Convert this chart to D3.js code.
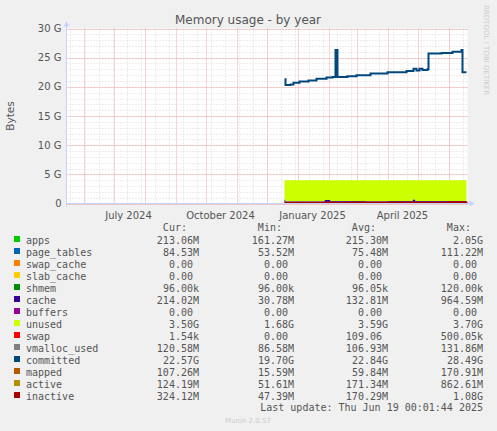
<!DOCTYPE html>
<html><head><meta charset="utf-8">
<script src="https://cdn.jsdelivr.net/npm/d3@7"></script>
<style>body{margin:0;background:#f0f0f0}svg{display:block}</style>
</head><body>
<svg id="chart" width="497" height="431"></svg>
<script>
// legend rows
const names = ['apps','page_tables','swap_cache','slab_cache','shmem','cache','buffers','unused','swap','vmalloc_used','committed','mapped','active','inactive'];
const colors = ['#00cc00','#0066b3','#ff8000','#ffcc00','#008f00','#330099','#990099','#ccff00','#ff0000','#808080','#00487d','#b35a00','#b38f00','#a80000'];
const curV = ['213.06M','84.53M','0.00','0.00','96.00k','214.02M','0.00','3.50G','1.54k','120.58M','22.57G','107.26M','124.19M','324.12M'];
const minV = ['161.27M','53.52M','0.00','0.00','96.00k','30.78M','0.00','1.68G','0.00','86.58M','19.70G','15.59M','51.61M','47.39M'];
const avgV = ['215.30M','75.48M','0.00','0.00','96.05k','132.81M','0.00','3.59G','109.06','106.93M','22.84G','59.84M','171.34M','170.29M'];
const maxV = ['2.05G','111.22M','0.00','0.00','120.00k','964.59M','0.00','3.70G','500.05k','131.86M','28.49G','170.91M','862.61M','1.08G'];

// stacked series (GB)
const stackDates = ['2024-12-19','2024-12-20','2025-01-10','2025-01-28','2025-02-03','2025-02-20','2025-03-10','2025-04-01','2025-04-26','2025-04-29','2025-05-12','2025-06-01','2025-06-19'];
const apps       = [0.22,0.21,0.21,0.22,0.21,0.21,0.21,0.21,0.22,0.21,0.21,0.21,0.21];
const pageTables = [0.06,0.07,0.07,0.07,0.07,0.08,0.08,0.08,0.08,0.08,0.08,0.08,0.08];
const cache      = [0.40,0.10,0.12,0.30,0.14,0.12,0.10,0.12,0.40,0.14,0.13,0.15,0.21];
const unused     = [3.30,3.60,3.58,3.40,3.55,3.58,3.60,3.58,3.30,3.55,3.57,3.56,3.50];
const inactive   = [0.15,0.14,0.15,0.16,0.15,0.16,0.16,0.16,0.18,0.17,0.18,0.20,0.32];

// committed line (GB)
const commitDates = ['2024-12-19','2024-12-20','2024-12-25','2024-12-28','2025-01-03','2025-01-12','2025-01-20','2025-01-30','2025-02-05','2025-02-08','2025-02-10','2025-02-20','2025-03-01','2025-03-15','2025-04-01','2025-04-20','2025-04-27','2025-04-30','2025-05-03','2025-05-06','2025-05-11','2025-05-12','2025-05-25','2025-06-05','2025-06-13','2025-06-14','2025-06-15','2025-06-19'];
const committed   = [21.3,20.3,20.4,20.7,20.9,21.1,21.4,21.6,21.7,26.3,21.7,21.8,22.0,22.3,22.5,22.7,23.1,22.8,23.1,22.9,23.0,25.7,25.8,26.0,26.0,26.3,22.5,22.5];

const yTicks = [0,5,10,15,20,25,30];
const yLabels = ['0','5 G','10 G','15 G','20 G','25 G','30 G'];
const monthLabels = [['2024-07-16','July 2024'],['2024-10-16','October 2024'],['2025-01-16','January 2025'],['2025-04-16','April 2025']];

const svg = d3.select('#chart');
const L = 66.5, R = 467.5, T = 28.5, B = 203.5;
const parse = d3.utcParse('%Y-%m-%d');
const x = d3.scaleUtc().domain([parse('2024-05-15'), parse('2025-06-20')]).range([L, R]);
const y = d3.scaleLinear().domain([0, 30]).range([B, T]);

svg.append('rect').attr('x', L).attr('y', T).attr('width', R - L).attr('height', B - T).attr('fill', '#fff');

// grid
const g = svg.append('g');
const minorC = '#d8d8d8', majorC = '#f2a8a8';
x.ticks(d3.utcWeek.every(2)).forEach(d => g.append('line').attr('x1', Math.round(x(d)) + .5).attr('x2', Math.round(x(d)) + .5).attr('y1', T).attr('y2', B).attr('stroke', minorC).attr('stroke-dasharray', '1,2'));
d3.range(0, 31, 1).forEach(v => g.append('line').attr('x1', L).attr('x2', R).attr('y1', Math.round(y(v)) + .5).attr('y2', Math.round(y(v)) + .5).attr('stroke', minorC).attr('stroke-dasharray', '1,2'));
x.ticks(d3.utcMonth.every(1)).forEach(d => g.append('line').attr('x1', Math.round(x(d)) + .5).attr('x2', Math.round(x(d)) + .5).attr('y1', T).attr('y2', B).attr('stroke', majorC).attr('stroke-dasharray', '1,1'));
yTicks.forEach(v => g.append('line').attr('x1', L).attr('x2', R).attr('y1', Math.round(y(v)) + .5).attr('y2', Math.round(y(v)) + .5).attr('stroke', majorC).attr('stroke-dasharray', '1,1'));

// stacked areas
const sd = stackDates.map(parse);
const rows = sd.map((d, i) => ({ d, apps: apps[i], page_tables: pageTables[i], cache: cache[i], unused: unused[i] }));
const stack = d3.stack().keys(['apps', 'page_tables', 'cache', 'unused'])(rows);
const stackColors = { apps: '#00cc00', page_tables: '#0066b3', cache: '#330099', unused: '#ccff00' };
const area = d3.area().curve(d3.curveStepAfter).x(d => x(d.data.d)).y0(d => y(d[0])).y1(d => y(d[1]));
stack.forEach(s => svg.append('path').datum(s).attr('d', area).attr('fill', stackColors[s.key]));

const line = d3.line().curve(d3.curveStepAfter).x(d => x(d[0])).y(d => y(d[1]));
svg.append('path').datum(sd.map((d, i) => [d, inactive[i]])).attr('d', line).attr('fill', 'none').attr('stroke', '#a80000').attr('stroke-width', 2);
svg.append('path').datum(commitDates.map((d, i) => [parse(d), committed[i]])).attr('d', line).attr('fill', 'none').attr('stroke', '#00487d').attr('stroke-width', 2);

// axes
svg.append('line').attr('x1', L).attr('x2', R + 5).attr('y1', B).attr('y2', B).attr('stroke', '#c8d2ff');
svg.append('line').attr('x1', L).attr('x2', L).attr('y1', B + 3).attr('y2', T - 5).attr('stroke', '#c8d2ff');
svg.append('path').attr('d', `M${R + 2},${B - 3}L${R + 7},${B}L${R + 2},${B + 3}Z`).attr('fill', '#c8d2ff');
svg.append('path').attr('d', `M${L - 3},${T - 2}L${L},${T - 7}L${L + 3},${T - 2}Z`).attr('fill', '#c8d2ff');

const font = 'DejaVu Sans, sans-serif';
yTicks.forEach((v, i) => svg.append('text').attr('x', L - 5).attr('y', y(v) + 3.5).attr('text-anchor', 'end').attr('font-family', font).attr('font-size', 10).attr('fill', '#555').text(yLabels[i]));
monthLabels.forEach(m => svg.append('text').attr('x', x(parse(m[0]))).attr('y', B + 15).attr('text-anchor', 'middle').attr('font-family', font).attr('font-size', 10).attr('fill', '#555').text(m[1]));

svg.append('text').attr('x', 248).attr('y', 24).attr('text-anchor', 'middle').attr('font-family', font).attr('font-size', 12).attr('fill', '#555').text('Memory usage - by year');
svg.append('text').attr('transform', 'translate(14,116) rotate(-90)').attr('text-anchor', 'middle').attr('font-family', font).attr('font-size', 10.5).attr('fill', '#555').text('Bytes');
svg.append('text').attr('transform', 'translate(484,5) rotate(90)').attr('font-family', font).attr('font-size', 7).attr('fill', '#ccc').text('RRDTOOL / TOBI OETIKER');

// legend
const mono = 'DejaVu Sans Mono, monospace';
const cw = 6.02;
const colR = [199, 294, 388, 483];
['Cur:', 'Min:', 'Avg:', 'Max:'].forEach((h, i) => svg.append('text').attr('x', colR[i] - 2 * cw).attr('y', 231).attr('text-anchor', 'end').attr('font-family', mono).attr('font-size', 10).attr('fill', '#555').text(h));
names.forEach((n, i) => {
  const yy = 243.5 + i * 12;
  svg.append('rect').attr('x', 14).attr('y', yy - 7.5).attr('width', 6).attr('height', 6).attr('fill', colors[i]);
  svg.append('text').attr('x', 26).attr('y', yy).attr('font-family', mono).attr('font-size', 10).attr('fill', '#555').text(n);
  [curV, minV, avgV, maxV].forEach((arr, j) => {
    const v = arr[i];
    const off = /[kMG]$/.test(v) ? 0 : cw;
    svg.append('text').attr('x', colR[j] - off).attr('y', yy).attr('text-anchor', 'end').attr('font-family', mono).attr('font-size', 10).attr('fill', '#555').text(v);
  });
});
svg.append('text').attr('x', 483).attr('y', 411).attr('text-anchor', 'end').attr('font-family', mono).attr('font-size', 10).attr('fill', '#555').text('Last update: Thu Jun 19 00:01:44 2025');
svg.append('text').attr('x', 248).attr('y', 423).attr('text-anchor', 'middle').attr('font-family', font).attr('font-size', 7).attr('fill', '#ccc').text('Munin 2.0.57');
</script>
</body></html>
